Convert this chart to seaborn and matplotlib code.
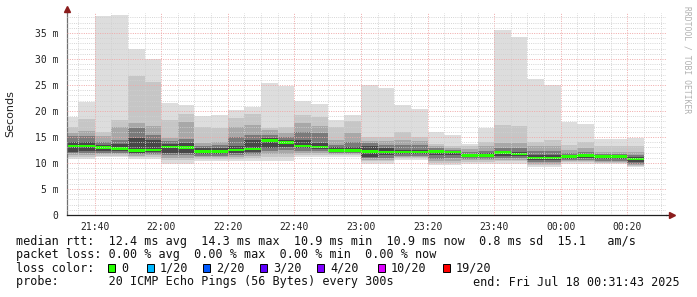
import numpy as np
import pandas as pd
import matplotlib
matplotlib.use("Agg")
import matplotlib.pyplot as plt
import matplotlib.dates as mdates
from matplotlib.patches import Rectangle
import seaborn as sns

# ---------------- data ----------------
bin_start = [
    "2025-07-17 21:30", "2025-07-17 21:35", "2025-07-17 21:40", "2025-07-17 21:45",
    "2025-07-17 21:50", "2025-07-17 21:55", "2025-07-17 22:00", "2025-07-17 22:05",
    "2025-07-17 22:10", "2025-07-17 22:15", "2025-07-17 22:20", "2025-07-17 22:25",
    "2025-07-17 22:30", "2025-07-17 22:35", "2025-07-17 22:40", "2025-07-17 22:45",
    "2025-07-17 22:50", "2025-07-17 22:55", "2025-07-17 23:00", "2025-07-17 23:05",
    "2025-07-17 23:10", "2025-07-17 23:15", "2025-07-17 23:20", "2025-07-17 23:25",
    "2025-07-17 23:30", "2025-07-17 23:35", "2025-07-17 23:40", "2025-07-17 23:45",
    "2025-07-17 23:50", "2025-07-17 23:55", "2025-07-18 00:00", "2025-07-18 00:05",
    "2025-07-18 00:10", "2025-07-18 00:15", "2025-07-18 00:20",
]
# RTT values in ms
rtt_max = [18.9, 21.8, 38.3, 38.5, 31.9, 30.0, 21.6, 21.2, 19.0, 19.2,
           20.2, 20.8, 25.3, 24.9, 21.9, 21.3, 18.3, 19.2, 25.0, 24.5,
           21.1, 20.4, 15.9, 15.3, 13.7, 16.8, 35.6, 34.3, 26.2, 25.0,
           17.9, 17.5, 14.7, 14.6, 14.9]
hi1 = [17.0, 18.4, 16.0, 18.3, 26.7, 25.6, 18.3, 19.4, 17.0, 16.7,
       18.6, 19.4, 16.7, 17.0, 19.2, 18.9, 17.0, 18.0, 15.0, 15.0,
       16.0, 15.0, 13.6, 13.2, 13.2, 14.1, 17.3, 17.1, 14.1, 14.4,
       13.5, 14.1, 13.2, 13.2, 13.2]
hi2 = [15.7, 16.1, 15.1, 17.0, 17.6, 17.1, 14.9, 17.8, 13.8, 14.1,
       16.9, 17.3, 16.4, 15.7, 17.7, 17.2, 14.4, 15.7, 14.3, 14.3,
       14.4, 14.3, 13.2, 12.8, 12.6, 13.2, 13.8, 13.8, 13.2, 13.2,
       12.5, 12.8, 12.2, 12.2, 12.2]
hi3 = [15.1, 15.1, 14.0, 14.4, 16.7, 15.4, 14.2, 14.7, 13.3, 13.4,
       15.0, 15.4, 15.4, 15.0, 16.0, 15.7, 13.5, 14.1, 13.8, 13.5,
       13.5, 13.5, 12.8, 12.5, 12.1, 12.4, 12.9, 12.8, 12.4, 12.4,
       12.0, 12.2, 11.8, 11.8, 11.5]
hi4 = [14.1, 14.1, 13.5, 13.6, 14.9, 14.4, 13.6, 13.8, 12.8, 12.8,
       13.2, 14.4, 14.8, 14.4, 14.4, 13.8, 13.0, 13.1, 13.2, 12.9,
       12.5, 12.5, 12.5, 12.3, 11.7, 11.9, 12.4, 12.2, 11.5, 11.5,
       11.6, 11.8, 11.5, 11.5, 11.1]
median = [13.3, 13.3, 13.0, 12.8, 12.4, 12.5, 13.1, 13.0, 12.2, 12.2,
          12.5, 12.7, 14.3, 14.0, 13.3, 13.1, 12.4, 12.4, 12.2, 12.1,
          12.1, 12.1, 12.2, 12.1, 11.5, 11.5, 12.0, 11.7, 11.0, 11.0,
          11.2, 11.4, 11.3, 11.3, 10.8]
lo4 = [12.2, 12.3, 12.4, 12.3, 12.0, 12.1, 12.0, 12.0, 11.8, 11.8,
       12.0, 12.1, 12.8, 13.1, 12.8, 12.6, 12.1, 12.1, 11.2, 11.5,
       11.7, 11.7, 11.6, 11.6, 11.1, 11.1, 11.4, 11.3, 10.5, 10.5,
       10.8, 10.9, 10.8, 10.8, 10.2]
lo3 = [11.9, 12.0, 12.0, 12.0, 11.7, 11.8, 11.5, 11.5, 11.4, 11.4,
       11.6, 11.7, 12.4, 12.5, 12.4, 12.3, 11.9, 11.9, 10.9, 11.0,
       11.4, 11.4, 10.8, 10.9, 10.8, 10.8, 11.0, 11.0, 10.1, 10.1,
       10.5, 10.6, 10.4, 10.4, 9.9]
lo2 = [11.5, 11.6, 11.7, 11.7, 11.4, 11.5, 11.0, 11.0, 11.1, 11.1,
       11.2, 11.3, 11.8, 11.8, 12.0, 12.0, 11.7, 11.7, 10.6, 10.6,
       11.1, 11.1, 10.3, 10.4, 10.5, 10.5, 10.6, 10.6, 9.8, 9.8,
       10.3, 10.3, 10.2, 10.2, 9.7]
lo1 = [11.2, 11.2, 11.4, 11.4, 11.1, 11.1, 10.5, 10.5, 10.8, 10.8,
       10.8, 10.9, 11.2, 11.2, 11.6, 11.6, 11.5, 11.5, 10.3, 10.3,
       10.9, 10.9, 10.0, 10.0, 10.2, 10.2, 10.3, 10.3, 9.6, 9.6,
       10.1, 10.1, 10.0, 10.0, 9.5]
rtt_min = [10.7, 10.7, 11.2, 11.2, 10.8, 10.8, 9.9, 9.9, 10.4, 10.4,
           10.3, 10.3, 10.4, 10.4, 11.2, 11.2, 11.2, 11.2, 9.9, 9.9,
           10.6, 10.6, 9.6, 9.6, 9.9, 9.9, 9.9, 9.9, 9.3, 9.3,
           9.9, 9.9, 9.9, 9.9, 9.3]

ytick_vals = [0, 5, 10, 15, 20, 25, 30, 35]
ytick_labels = ["0", "5 m", "10 m", "15 m", "20 m", "25 m", "30 m", "35 m"]

loss_labels = ["0", "1/20", "2/20", "3/20", "4/20", "10/20", "19/20"]
loss_colors = ["#26ff00", "#00b8ff", "#0059ff", "#5e00ff", "#7e00ff", "#dd00ff", "#ff0000"]

stats_line1 = "median rtt:  12.4 ms avg  14.3 ms max  10.9 ms min  10.9 ms now  0.8 ms sd  15.1   am/s"
stats_line2 = "packet loss: 0.00 % avg  0.00 % max  0.00 % min  0.00 % now"
probe_line = "probe:       20 ICMP Echo Pings (56 Bytes) every 300s"
end_text = "end: Fri Jul 18 00:31:43 2025"

# ---------------- figure ----------------
sns.set_theme(style="white")
plt.rcParams["font.family"] = ["DejaVu Sans Mono"]
W, H = 697, 297
fig = plt.figure(figsize=(W / 100, H / 100), dpi=100)
fig.patch.set_facecolor("white")

ax_l, ax_r, ax_t, ax_b = 67, 666.4, 13, 215
ax = fig.add_axes([ax_l / W, 1 - ax_b / H, (ax_r - ax_l) / W, (ax_b - ax_t) / H])
ax.set_facecolor("white")

df = pd.DataFrame({
    "t": pd.to_datetime(bin_start),
    "rtt_max": rtt_max, "hi1": hi1, "hi2": hi2, "hi3": hi3, "hi4": hi4,
    "median": median,
    "lo4": lo4, "lo3": lo3, "lo2": lo2, "lo1": lo1, "rtt_min": rtt_min,
})
x = mdates.date2num(df["t"])
width = 5 / 1440.0

layers = [("rtt_min", "rtt_max", "#dddddd"),
          ("lo1", "hi1", "#c6c6c6"),
          ("lo2", "hi2", "#a8a8a8"),
          ("lo3", "hi3", "#7a7a7a"),
          ("lo4", "hi4", "#474747")]
for lo, hi, c in layers:
    ax.bar(x, df[hi] - df[lo], bottom=df[lo], width=width, align="edge",
           color=c, linewidth=0, antialiased=False, zorder=1)

# median (loss colour 0 -> green)
mh = 0.5
ax.bar(x, [mh] * len(df), bottom=df["median"] - mh / 2, width=width, align="edge",
       color=loss_colors[0], linewidth=0, antialiased=False, zorder=1.5)

t0 = pd.Timestamp("2025-07-17 21:31:43")
t1 = pd.Timestamp("2025-07-18 00:31:43")
ax.set_xlim(mdates.date2num(t0), mdates.date2num(t1))
ax.set_ylim(0, (ax_b - ax_t) / 5.2)

ax.xaxis.set_major_locator(mdates.MinuteLocator(byminute=[0, 20, 40]))
ax.xaxis.set_minor_locator(mdates.MinuteLocator(byminute=range(0, 60, 5)))
ax.xaxis.set_major_formatter(mdates.DateFormatter("%H:%M"))
ax.set_yticks(ytick_vals)
ax.set_yticklabels(ytick_labels)
ax.set_yticks(np.arange(0, 39, 1), minor=True)

ax.set_axisbelow(False)
ax.grid(which="minor", color="#d0d0d0", linestyle=(0, (1, 1.4)), linewidth=0.65, zorder=2)
ax.grid(which="major", color="#f0a8a8", linestyle=(0, (1, 1.4)), linewidth=0.7, zorder=2.1)

for s in ["top", "right"]:
    ax.spines[s].set_visible(False)
ax.spines["left"].set_color("#707070")
ax.spines["left"].set_linewidth(0.9)
ax.spines["bottom"].set_color("#202020")
ax.spines["bottom"].set_linewidth(0.9)

ax.tick_params(axis="both", which="major", length=2, width=0.7, color="#606060",
               labelsize=7, labelcolor="#222222", pad=4)
ax.tick_params(axis="both", which="minor", length=1.5, width=0.6, color="#909090")
ax.tick_params(axis="x", which="major", pad=3)

ax.set_ylabel("Seconds", family="DejaVu Sans", fontsize=8, color="#222222", labelpad=14)

# axis extensions + arrows
ax.plot([0, 0], [1, 1.02], transform=ax.transAxes, color="#707070", lw=0.9, clip_on=False)
ax.plot([1, 1.008], [0, 0], transform=ax.transAxes, color="#202020", lw=0.9, clip_on=False)
ax.plot([0], [1.02], transform=ax.transAxes, marker="^", markersize=4,
        color="#8b1c1c", clip_on=False, zorder=5)
ax.plot([1.009], [0], transform=ax.transAxes, marker=">", markersize=4,
        color="#8b1c1c", clip_on=False, zorder=5)

# watermark
fig.text(687 / W, 1 - 60 / H, "RRDTOOL / TOBI OETIKER", rotation=270,
         ha="center", va="center", fontsize=5.8, color="#b0b0b0",
         family="DejaVu Sans Mono")

# ---------------- legend text ----------------
fs = 8.5
def ftext(px, py, s, ha="left"):
    fig.text(px / W, 1 - py / H, s, ha=ha, va="center", fontsize=fs,
             color="#111111", family="DejaVu Sans Mono")

ftext(16, 241, stats_line1)
ftext(16, 254.5, stats_line2)

ftext(16, 268, "loss color:")
box_x = [108, 147, 203, 260, 317, 378, 443]
for bx, lab, col in zip(box_x, loss_labels, loss_colors):
    fig.patches.append(Rectangle((bx / W, 1 - 272 / H), 7 / W, 8 / H,
                                 transform=fig.transFigure, facecolor=col,
                                 edgecolor="black", linewidth=0.7))
    ftext(bx + 13, 268, lab)

ftext(16, 282, probe_line)
ftext(680, 282, end_text, ha="right")

fig.savefig("out.png", dpi=100, facecolor="white")
